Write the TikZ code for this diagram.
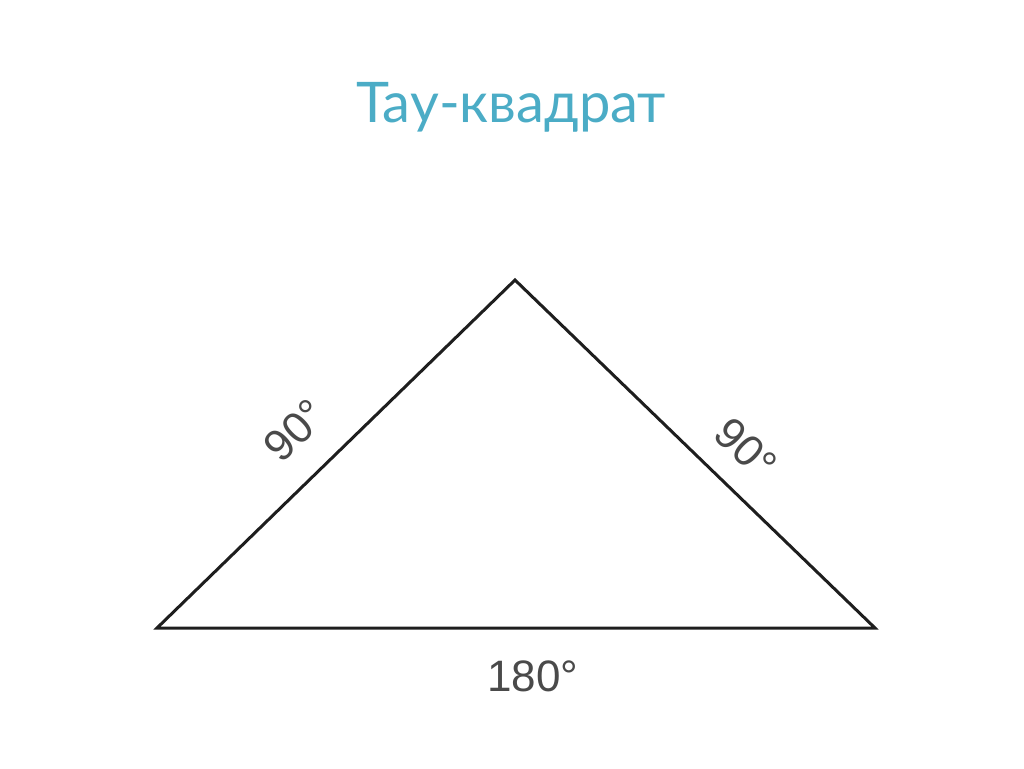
\documentclass[tikz,border=0pt]{standalone}
\usepackage{fontspec}
\setmainfont{Lato}
\newfontfamily\labelfont{Liberation Sans}
\usetikzlibrary{positioning, calc}
\definecolor{titleteal}{HTML}{4BACC6}
\definecolor{edgegray}{HTML}{1E1E1E}
\definecolor{labelgray}{HTML}{4A4A4A}

\begin{document}
\begin{tikzpicture}[x=1pt, y=-1pt, every node/.style={inner sep=0pt},
    angle label/.style={font=\labelfont\fontsize{44}{44}\selectfont, text=labelgray}]
        \useasboundingbox (0,0) rectangle (1024,768);
        \node[anchor=base, text=titleteal, font=\fontsize{56}{56}\selectfont] (title) at (511,122) {Тау-квадрат}; % slide title

        \coordinate (apex) at (515,280); % top corner
        \coordinate (left) at (157,628); % bottom left corner
        \coordinate (right) at (875,628); % bottom right corner

        \draw[edgegray, line width=3pt] (left) -- (apex) -- (right) -- cycle;

        % Angle sums along the sides
        \node[angle label, rotate=44] (leftside) at (295,430) {90°};
        \node[angle label, rotate=-44] (rightside) at (746,449) {90°};
        \node[angle label, anchor=base] (base) at (533,691) {180°};
\end{tikzpicture}
\end{document}
